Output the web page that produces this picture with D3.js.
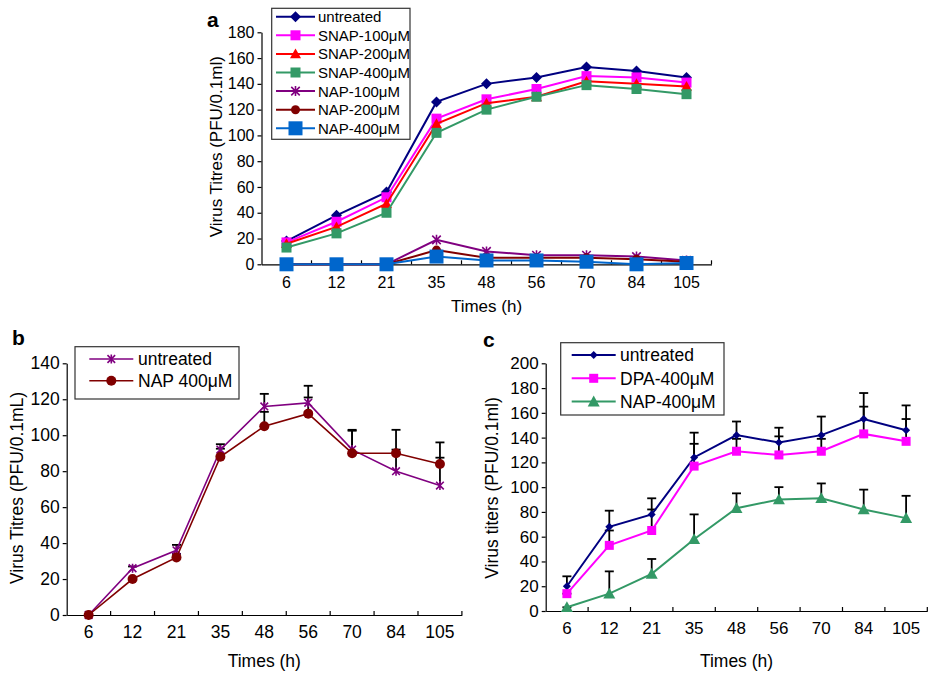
<!DOCTYPE html>
<html>
<head>
<meta charset="utf-8">
<script src="https://cdn.jsdelivr.net/npm/d3@7"></script>
<style>
  body { margin: 0; background: #fff; }
  svg { font-family: Arial, "Liberation Sans", Helvetica, sans-serif; }
  .axis path, .axis line { stroke: #000; stroke-width: 1.2; }
  .axis text { fill: #000; }
</style>
</head>
<body>
<div id="chart"></div>
<script>
// sampling times, shared by all three panels
const times = ['6', '12', '21', '35', '48', '56', '70', '84', '105'];

// panel a
const aUntreated = [18, 38, 56, 126, 140, 145, 153, 150, 145];
const aSnap100 = [17, 33, 52, 113, 128, 136, 146, 145, 141];
const aSnap200 = [16, 29, 47, 109, 125, 130, 142, 140, 138];
const aSnap400 = [13, 24, 40, 102, 120, 130, 139, 136, 132];
const aNap100 = [0, 0, 0, 19, 10, 7, 7, 6, 3];
const aNap200 = [0, 0, 0, 11, 5, 5, 5, 4, 2];
const aNap400 = [0, 0, 0, 6, 3, 3, 2, 0, 1];
const aTicks = [0, 20, 40, 60, 80, 100, 120, 140, 160, 180];

// panel b
const bUntreated = [0, 26, 36, 92, 116, 118, 92, 80, 72];
const bUntreatedErr = [null, 1, 3, 3, 7, 9.5, 11, 12, 15.5];
const bNap400 = [0, 20, 32, 88, 105, 112, 90, 90, 84];
const bNap400Err = [null, null, 2, 4.5, 8, 9, 12.5, 13, 12];
const bTicks = [0, 20, 40, 60, 80, 100, 120, 140];

// panel c
const cUntreated = [20, 68, 78, 124, 142, 136, 142, 155, 146];
const cUntreatedErr = [8, 13, 13, 20, 11, 12, 15, 21, 20];
const cDpa = [14, 53, 65, 117, 129, 126, 129, 143, 137];
const cDpaErr = [0, 12, 17, 18, 10, 15, 10, 22, 18];
const cNap = [3, 14, 30, 58, 83, 90, 91, 82, 75];
const cNapErr = [0, 18, 12, 20, 12, 10, 12, 16, 18];
const cTicks = [0, 20, 40, 60, 80, 100, 120, 140, 160, 180, 200];

const svg = d3.select('#chart').append('svg')
  .attr('width', 929)
  .attr('height', 673);
svg.append('rect').attr('width', 929).attr('height', 673).attr('fill', '#fff');

// marker shapes
function marker(g, shape, size, color) {
  const r = size / 2;
  if (shape === 'diamond') {
    g.append('path')
      .attr('d', `M0,${-r}L${r},0L0,${r}L${-r},0Z`)
      .attr('fill', color);
  } else if (shape === 'square') {
    g.append('rect')
      .attr('x', -r).attr('y', -r)
      .attr('width', size).attr('height', size)
      .attr('fill', color);
  } else if (shape === 'triangle') {
    g.append('path')
      .attr('d', `M0,${-r}L${r},${r * 0.8}L${-r},${r * 0.8}Z`)
      .attr('fill', color);
  } else if (shape === 'circle') {
    g.append('circle').attr('r', r).attr('fill', color);
  } else if (shape === 'star') {
    const d = r * 0.85;
    g.append('path')
      .attr('d', `M0,${-r}V${r}M${-d},${-d}L${d},${d}M${-d},${d}L${d},${-d}`)
      .attr('stroke', color)
      .attr('stroke-width', 1.6)
      .attr('fill', 'none');
  }
}

function drawPanel(p) {
  const x = d3.scaleBand().domain(times).range(p.xRange).paddingInner(0).paddingOuter(0);
  const y = d3.scaleLinear().domain([0, p.yMax]).range(p.yRange);
  const g = svg.append('g');

  // x axis: labels at band centres, ticks at band edges pointing up
  const xAxis = g.append('g')
    .attr('class', 'axis')
    .attr('transform', `translate(0,${p.yRange[0]})`)
    .call(d3.axisBottom(x).tickSize(0).tickPadding(p.xPad).tickSizeOuter(0));
  xAxis.selectAll('text').attr('font-size', p.tickFont);
  xAxis.selectAll('.edge')
    .data(d3.range(1, times.length + 1))
    .enter().append('line')
    .attr('class', 'edge')
    .attr('x1', i => x.range()[0] + i * x.step())
    .attr('x2', i => x.range()[0] + i * x.step())
    .attr('y1', 0).attr('y2', -4);

  const yAxis = g.append('g')
    .attr('class', 'axis')
    .attr('transform', `translate(${p.xRange[0]},0)`)
    .call(d3.axisLeft(y).tickValues(p.yTicks).tickSize(4).tickPadding(3).tickSizeOuter(0));
  yAxis.selectAll('text').attr('font-size', p.tickFont);

  // axis titles
  g.append('text')
    .attr('x', (p.xRange[0] + p.xRange[1]) / 2)
    .attr('y', p.xTitleY)
    .attr('text-anchor', 'middle')
    .attr('font-size', p.titleFont)
    .text('Times (h)');
  g.append('text')
    .attr('transform', `translate(${p.yTitleX},${p.yTitleMid}) rotate(-90)`)
    .attr('text-anchor', 'middle')
    .attr('font-size', p.titleFont)
    .text(p.yTitle);

  // panel letter
  g.append('text')
    .attr('x', p.letter[1]).attr('y', p.letter[2])
    .attr('font-size', 21).attr('font-weight', 'bold')
    .text(p.letter[0]);

  const cx = (d, i) => x(times[i]) + x.bandwidth() / 2;
  const line = d3.line().x(cx).y(d => y(d));

  // error bars (upward only)
  p.series.forEach(s => {
    if (!s.err) return;
    const eb = g.append('g').attr('stroke', '#000').attr('stroke-width', 1.8);
    s.err.forEach((e, i) => {
      if (e === null) return;
      const x0 = cx(null, i);
      eb.append('line')
        .attr('x1', x0).attr('x2', x0)
        .attr('y1', y(s.values[i])).attr('y2', y(s.values[i] + e));
      eb.append('line')
        .attr('x1', x0 - 4.5).attr('x2', x0 + 4.5)
        .attr('y1', y(s.values[i] + e)).attr('y2', y(s.values[i] + e));
    });
  });

  p.series.forEach(s => {
    g.append('path')
      .datum(s.values)
      .attr('d', line)
      .attr('fill', 'none')
      .attr('stroke', s.color)
      .attr('stroke-width', p.lineWidth);
    s.values.forEach((v, i) => {
      const m = g.append('g').attr('transform', `translate(${cx(v, i)},${y(v)})`);
      marker(m, s.shape, s.size, s.color);
    });
  });

  // legend
  const L = p.legend;
  g.append('rect')
    .attr('x', L.box[0]).attr('y', L.box[1])
    .attr('width', L.box[2] - L.box[0]).attr('height', L.box[3] - L.box[1])
    .attr('fill', '#fff').attr('stroke', '#333').attr('stroke-width', 1.2);
  p.series.forEach((s, i) => {
    const ly = L.y0 + i * L.dy;
    g.append('line')
      .attr('x1', L.line[0]).attr('x2', L.line[1])
      .attr('y1', ly).attr('y2', ly)
      .attr('stroke', s.color).attr('stroke-width', p.lineWidth);
    const m = g.append('g').attr('transform', `translate(${(L.line[0] + L.line[1]) / 2},${ly})`);
    marker(m, s.shape, s.size, s.color);
    g.append('text')
      .attr('x', L.textX).attr('y', ly)
      .attr('dy', '0.36em')
      .attr('font-size', L.font)
      .text(s.name);
  });
}

drawPanel({
  letter: ['a', 207, 27],
  xRange: [261.5, 711.5], yRange: [264.3, 32.3], yMax: 180, yTicks: aTicks,
  tickFont: 16, titleFont: 17, xPad: 12, lineWidth: 2,
  xTitleY: 312, yTitleX: 222, yTitleMid: 146.7,
  yTitle: 'Virus Titres (PFU/0.1ml)',
  legend: { box: [271.7, 8.3, 410, 139.3], y0: 16.7, dy: 18.6, line: [276, 315], textX: 318, font: 15 },
  series: [
    { name: 'untreated', values: aUntreated, color: '#000080', shape: 'diamond', size: 11 },
    { name: 'SNAP-100μM', values: aSnap100, color: '#ff00ff', shape: 'square', size: 10 },
    { name: 'SNAP-200μM', values: aSnap200, color: '#ff0000', shape: 'triangle', size: 11 },
    { name: 'SNAP-400μM', values: aSnap400, color: '#339966', shape: 'square', size: 10 },
    { name: 'NAP-100μM', values: aNap100, color: '#800080', shape: 'star', size: 10 },
    { name: 'NAP-200μM', values: aNap200, color: '#800000', shape: 'circle', size: 9 },
    { name: 'NAP-400μM', values: aNap400, color: '#0066cc', shape: 'square', size: 14 }
  ]
});

drawPanel({
  letter: ['b', 12, 345],
  xRange: [66.7, 461.9], yRange: [615, 363.3], yMax: 140, yTicks: bTicks,
  tickFont: 17.5, titleFont: 17.5, xPad: 11, lineWidth: 1.6,
  xTitleY: 667, yTitleX: 23, yTitleMid: 488,
  yTitle: 'Virus Titres (PFU/0.1mL)',
  legend: { box: [75, 346.7, 239, 399], y0: 359, dy: 21.7, line: [89.3, 133.3], textX: 138, font: 17.5 },
  series: [
    { name: 'untreated', values: bUntreated, err: bUntreatedErr, color: '#800080', shape: 'star', size: 9 },
    { name: 'NAP 400μM', values: bNap400, err: bNap400Err, color: '#800000', shape: 'circle', size: 10 }
  ]
});

drawPanel({
  letter: ['c', 483, 347],
  xRange: [545.7, 927.3], yRange: [611, 363.3], yMax: 200, yTicks: cTicks,
  tickFont: 17, titleFont: 17.5, xPad: 11, lineWidth: 2,
  xTitleY: 667, yTitleX: 498, yTitleMid: 488,
  yTitle: 'Virus titers (PFU/0.1ml)',
  legend: { box: [560.7, 342.7, 724, 415], y0: 355, dy: 23.3, line: [571.7, 615.7], textX: 620, font: 17.5 },
  series: [
    { name: 'untreated', values: cUntreated, err: cUntreatedErr, color: '#000080', shape: 'diamond', size: 8 },
    { name: 'DPA-400μM', values: cDpa, err: cDpaErr, color: '#ff00ff', shape: 'square', size: 9 },
    { name: 'NAP-400μM', values: cNap, err: cNapErr, color: '#339966', shape: 'triangle', size: 12 }
  ]
});
</script>
</body>
</html>
